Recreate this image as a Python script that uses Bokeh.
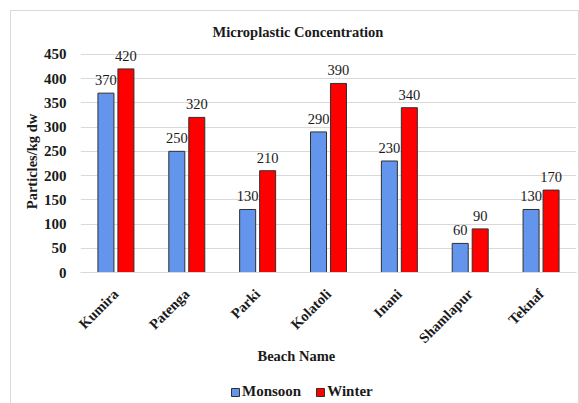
from math import pi

from bokeh.core.properties import value
from bokeh.embed import file_html
from bokeh.layouts import column
from bokeh.resources import INLINE
from bokeh.plotting import figure
from bokeh.models import (ColumnDataSource, FactorRange, Range1d, LabelSet, Title,
                          Legend, LegendItem, FixedTicker)
from bokeh.transform import dodge

# Microplastic concentration per beach (particles/kg dry weight)
beaches = ["Kumira", "Patenga", "Parki", "Kolatoli", "Inani", "Shamlapur", "Teknaf"]
monsoon = [370, 250, 130, 290, 230, 60, 130]
winter = [420, 320, 210, 390, 340, 90, 170]
y_ticks = [0, 50, 100, 150, 200, 250, 300, 350, 400, 450]

FONT = "Liberation Serif"
FS = "14.5px"
INK = "#1a1a1a"
BLUE = "#6495ED"
RED = "#FF0000"
EDGE = "#303030"
GRID = "#D9D9D9"

src = ColumnDataSource(dict(
    beach=beaches,
    monsoon=monsoon,
    winter=winter,
    monsoon_txt=[str(v) for v in monsoon],
    winter_txt=[str(v) for v in winter],
))

# ---- main chart -------------------------------------------------------
p = figure(
    width=567, height=361,
    x_range=FactorRange(*beaches, range_padding=0),
    y_range=Range1d(0, 458),
    output_backend="svg", toolbar_location=None,
    min_border_left=69, min_border_right=2,
    min_border_top=38, min_border_bottom=100,
)
p.outline_line_color = None
p.background_fill_color = "white"
p.border_fill_color = "white"

bw = 0.226
off = 0.141
p.vbar(x=dodge("beach", -off, range=p.x_range), top="monsoon", width=bw,
       source=src, fill_color=BLUE, line_color=EDGE, line_width=1)
p.vbar(x=dodge("beach", off, range=p.x_range), top="winter", width=bw,
       source=src, fill_color=RED, line_color=EDGE, line_width=1)

# value labels above the bars
for col, dx in (("monsoon", -off), ("winter", off)):
    p.add_layout(LabelSet(
        x=dodge("beach", dx, range=p.x_range), y=col, text=col + "_txt", source=src,
        text_font=value(FONT), text_font_size=FS, text_color=INK,
        text_align="center", text_baseline="alphabetic", y_offset=8,
    ))

# axes
p.yaxis.ticker = FixedTicker(ticks=y_ticks)
p.yaxis.axis_line_color = None
p.yaxis.major_tick_line_color = None
p.yaxis.minor_tick_line_color = None
p.yaxis.major_label_text_font = FONT
p.yaxis.major_label_text_font_style = "bold"
p.yaxis.major_label_text_font_size = "15px"
p.yaxis.major_label_text_color = INK
p.yaxis.major_label_standoff = 8
p.yaxis.axis_label = "Particles/kg dw"
p.yaxis.axis_label_text_font = FONT
p.yaxis.axis_label_text_font_style = "bold"
p.yaxis.axis_label_text_font_size = FS
p.yaxis.axis_label_text_color = INK
p.yaxis.axis_label_standoff = 1

p.xaxis.axis_line_color = GRID
p.xaxis.major_tick_line_color = None
p.xaxis.minor_tick_line_color = None
p.xaxis.major_label_orientation = pi / 4
p.xaxis.major_label_text_font = FONT
p.xaxis.major_label_text_font_style = "bold"
p.xaxis.major_label_text_font_size = FS
p.xaxis.major_label_text_color = INK
p.xaxis.major_label_standoff = 13

p.xgrid.grid_line_color = None
p.ygrid.grid_line_color = GRID
p.ygrid.grid_line_width = 1

# chart title
p.title = Title(text="Microplastic Concentration", align="left", offset=132,
                text_font=FONT, text_font_style="bold", text_font_size=FS,
                text_color=INK, standoff=21)

# x-axis title
p.add_layout(Title(text="Beach Name", align="left", offset=177,
                   text_font=FONT, text_font_style="bold", text_font_size=FS,
                   text_color=INK, standoff=-17), "below")

# ---- legend strip ------------------------------------------------------
leg = figure(
    width=567, height=31,
    x_range=Range1d(0, 1), y_range=Range1d(0, 1),
    output_backend="svg", toolbar_location=None,
    x_axis_location=None, y_axis_location=None,
    min_border=0,
)
leg.outline_line_color = None
leg.grid.grid_line_color = None
# swatch renderers sit outside the visible range; only their legend glyphs show
leg_m = leg.vbar(x=[5], top=[0], width=0.1, fill_color=BLUE, line_color=EDGE, line_width=1)
leg_w = leg.vbar(x=[5], top=[0], width=0.1, fill_color=RED, line_color=EDGE, line_width=1)
leg.add_layout(Legend(
    items=[LegendItem(label="Monsoon", renderers=[leg_m]),
           LegendItem(label="Winter", renderers=[leg_w])],
    orientation="horizontal", location=(150, 3),
    background_fill_alpha=0, border_line_color=None,
    padding=0, margin=0, spacing=14,
    glyph_width=10, glyph_height=10, label_standoff=2, label_height=10,
    label_text_font=FONT, label_text_font_style="bold",
    label_text_font_size="15px", label_text_color=INK,
), "center")

# light chart-area frame around both parts
page = column(p, leg, spacing=0, styles={
    "margin": "10px 0 0 10px",
    "border-left": f"1px solid {GRID}",
    "border-top": f"1px solid {GRID}",
    "border-right": f"1px solid {GRID}",
})

open("out.html", "w").write(file_html(page, INLINE))
